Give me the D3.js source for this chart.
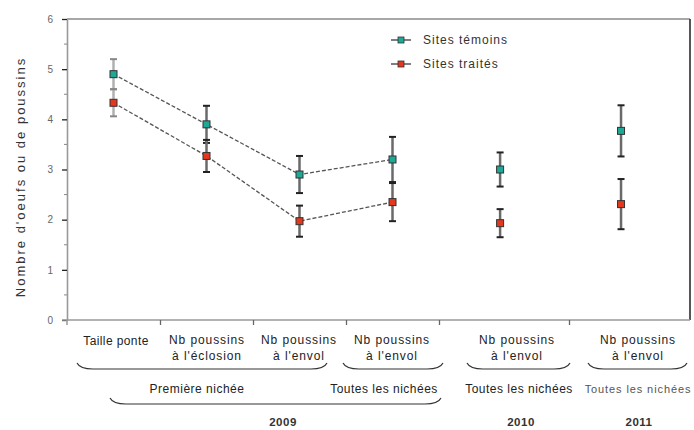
<!DOCTYPE html>
<html><head><meta charset="utf-8">
<script src="https://cdn.jsdelivr.net/npm/d3@7"></script>
<style>
body{margin:0;background:#fff;}
text{font-family:"Liberation Sans",Arial,sans-serif;}
</style></head>
<body><svg id="c" width="694" height="430"></svg>
<script>
// ---- data ----
const categories = ["Taille ponte","Nb poussins à l'éclosion","Nb poussins à l'envol","Nb poussins à l'envol","Nb poussins à l'envol","Nb poussins à l'envol"];
const catLabelLines = [["Taille ponte"],["Nb poussins","à l'éclosion"],["Nb poussins","à l'envol"],["Nb poussins","à l'envol"],["Nb poussins","à l'envol"],["Nb poussins","à l'envol"]];
const catPos = [0.5, 1.5, 2.5, 3.5, 4.47, 5.43];
const temoins = [4.9, 3.9, 2.9, 3.2, 3.0, 3.77];
const temoinsErr = [0.3, 0.37, 0.37, 0.45, 0.34, 0.51];
const traites = [4.33, 3.27, 1.97, 2.35, 1.93, 2.31];
const traitesErr = [0.27, 0.32, 0.31, 0.38, 0.28, 0.5];
const connected = 4; // first four points joined by lines
const yTicks = [0,1,2,3,4,5,6];
const seriesNames = ["Sites témoins","Sites traités"];
const groupLabels = ["Première nichée","Toutes les nichées","Toutes les nichées","Toutes les nichées"];
const yearLabels = ["2009","2010","2011"];
const yLabel = "Nombre d'oeufs ou de poussins";

// ---- layout ----
const svg = d3.select("#c");
const L = 67, R = 690, T = 19, B = 320;
const bounds = [67,160,253,346,439,569,690];
const x = d3.scaleLinear().domain([0,1,2,3,4,5,6]).range(bounds);
const y = d3.scaleLinear().domain([0,6]).range([B,T]);
const colT = "#1ea896", colR = "#e4381e";

// frame
svg.append("line").attr("x1",L).attr("x2",R).attr("y1",T).attr("y2",T).attr("stroke","#8a8a8a").attr("stroke-width",1.5);
svg.append("line").attr("x1",R).attr("x2",R).attr("y1",T).attr("y2",B).attr("stroke","#444").attr("stroke-width",1.8);

// y axis
const ya = svg.append("g").attr("transform",`translate(${L},0)`)
  .call(d3.axisLeft(y).tickValues(yTicks).tickSize(5).tickSizeOuter(0).tickPadding(9).tickFormat(d3.format("d")));
ya.select(".domain").attr("stroke","#999").attr("stroke-width",1.6);
ya.selectAll(".tick line").attr("stroke","#222").attr("stroke-width",1.3);
ya.selectAll(".tick text").attr("fill","#666").style("font-size","10px");
// minor ticks
svg.append("g").selectAll("line").data(d3.range(0.5,6,1)).join("line")
  .attr("x1",L-3).attr("x2",L).attr("y1",d=>y(d)).attr("y2",d=>y(d)).attr("stroke","#888").attr("stroke-width",1);

// x axis
const xa = svg.append("g").attr("transform",`translate(0,${B})`)
  .call(d3.axisBottom(x).tickValues([1,2,3,4,5]).tickSize(5).tickSizeOuter(0).tickFormat(""));
xa.select(".domain").attr("stroke","#999").attr("stroke-width",1.6).attr("d",`M${L-5},0H${R}`);
xa.selectAll(".tick line").attr("stroke","#666").attr("stroke-width",1.3);
svg.append("line").attr("x1",L).attr("x2",L).attr("y1",B).attr("y2",B+5).attr("stroke","#999").attr("stroke-width",1.5);

// y label
svg.append("text").attr("transform",`translate(25,177) rotate(-90)`).attr("text-anchor","middle")
  .style("font-size","13px").style("letter-spacing","2px").attr("fill","#333").text(yLabel);

// category labels
const labX = [116, 207, 299, 392, 517, 638];
catLabelLines.forEach((lines,i)=>{
  const t = svg.append("text").attr("text-anchor","middle").style("font-size","12px")
    .style("letter-spacing", i===0 ? "0.4px" : "0.9px").attr("fill","#222");
  lines.forEach((ln,j)=>{
    t.append("tspan").attr("x",labX[i]).attr("y", lines.length===1 ? 345 : 344 + j*15.5).text(ln);
  });
});

// braces
function brace(x0,x1,yy,h){
  return `M${x0},${yy-h} Q${x0+3},${yy} ${x0+16},${yy} L${x1-16},${yy} Q${x1-3},${yy} ${x1},${yy-h}`;
}
const braces = [[77,327,369],[343,443,369],[467,570,369],[588,687,369],[110,441,404]];
svg.append("g").selectAll("path").data(braces).join("path")
  .attr("d",d=>brace(d[0],d[1],d[2],6)).attr("fill","none").attr("stroke","#333").attr("stroke-width",1.2);

const grpX = [197, 384, 519, 638];
groupLabels.forEach((g,i)=>{
  svg.append("text").attr("x",grpX[i]).attr("y",393).attr("text-anchor","middle")
    .style("font-size", i===3? "11px":"12px").style("letter-spacing", i===3 ? "0.9px" : "0.5px")
    .attr("fill", i===3? "#555":"#222").text(g);
});
const yrX = [283, 521, 639];
yearLabels.forEach((g,i)=>{
  svg.append("text").attr("x",yrX[i]).attr("y",426).attr("text-anchor","middle")
    .style("font-size","11.5px").style("font-weight","bold").style("letter-spacing","0.5px").attr("fill","#333").text(g);
});

// dashed connecting lines
const line = d3.line().x((d,i)=>x(catPos[i])).y(d=>y(d));
[temoins, traites].forEach(s=>{
  svg.append("path").attr("d",line(s.slice(0,connected))).attr("fill","none")
    .attr("stroke","#555").attr("stroke-width",1.3).attr("stroke-dasharray","4,2");
});

// error bars
function drawSeries(vals, errs){
  const g = svg.append("g");
  vals.forEach((v,i)=>{
    const cx = x(catPos[i]);
    const bc = i===0 ? "#b0b0b0" : "#6a6a6a";
    g.append("line").attr("x1",cx).attr("x2",cx).attr("y1",y(v-errs[i])).attr("y2",y(v+errs[i]))
      .attr("stroke",bc).attr("stroke-width",2.5);
    [v-errs[i], v+errs[i]].forEach(e=>{
      g.append("line").attr("x1",cx-3.5).attr("x2",cx+3.5).attr("y1",y(e)).attr("y2",y(e))
        .attr("stroke", i===0 ? "#888" : "#222").attr("stroke-width",2);
    });
  });
}
drawSeries(temoins, temoinsErr);
drawSeries(traites, traitesErr);
function drawMarkers(vals, col){
  svg.append("g").selectAll("rect").data(vals).join("rect")
    .attr("x",(d,i)=>x(catPos[i])-3.5).attr("y",d=>y(d)-3.5).attr("width",7).attr("height",7)
    .attr("fill",col).attr("stroke","#333").attr("stroke-width",1);
}
drawMarkers(temoins, colT);
drawMarkers(traites, colR);

// legend
[[colT,40],[colR,64]].forEach(([c,yy],i)=>{
  svg.append("line").attr("x1",391).attr("x2",411).attr("y1",yy).attr("y2",yy).attr("stroke","#555").attr("stroke-width",1.5);
  svg.append("rect").attr("x",398).attr("y",yy-3).attr("width",6).attr("height",6).attr("fill",c).attr("stroke","#333").attr("stroke-width",0.8);
  svg.append("text").attr("x",423).attr("y",yy+4).style("font-size","12px").style("letter-spacing","1px")
    .attr("fill","#333").text(seriesNames[i]);
});
</script></body></html>
